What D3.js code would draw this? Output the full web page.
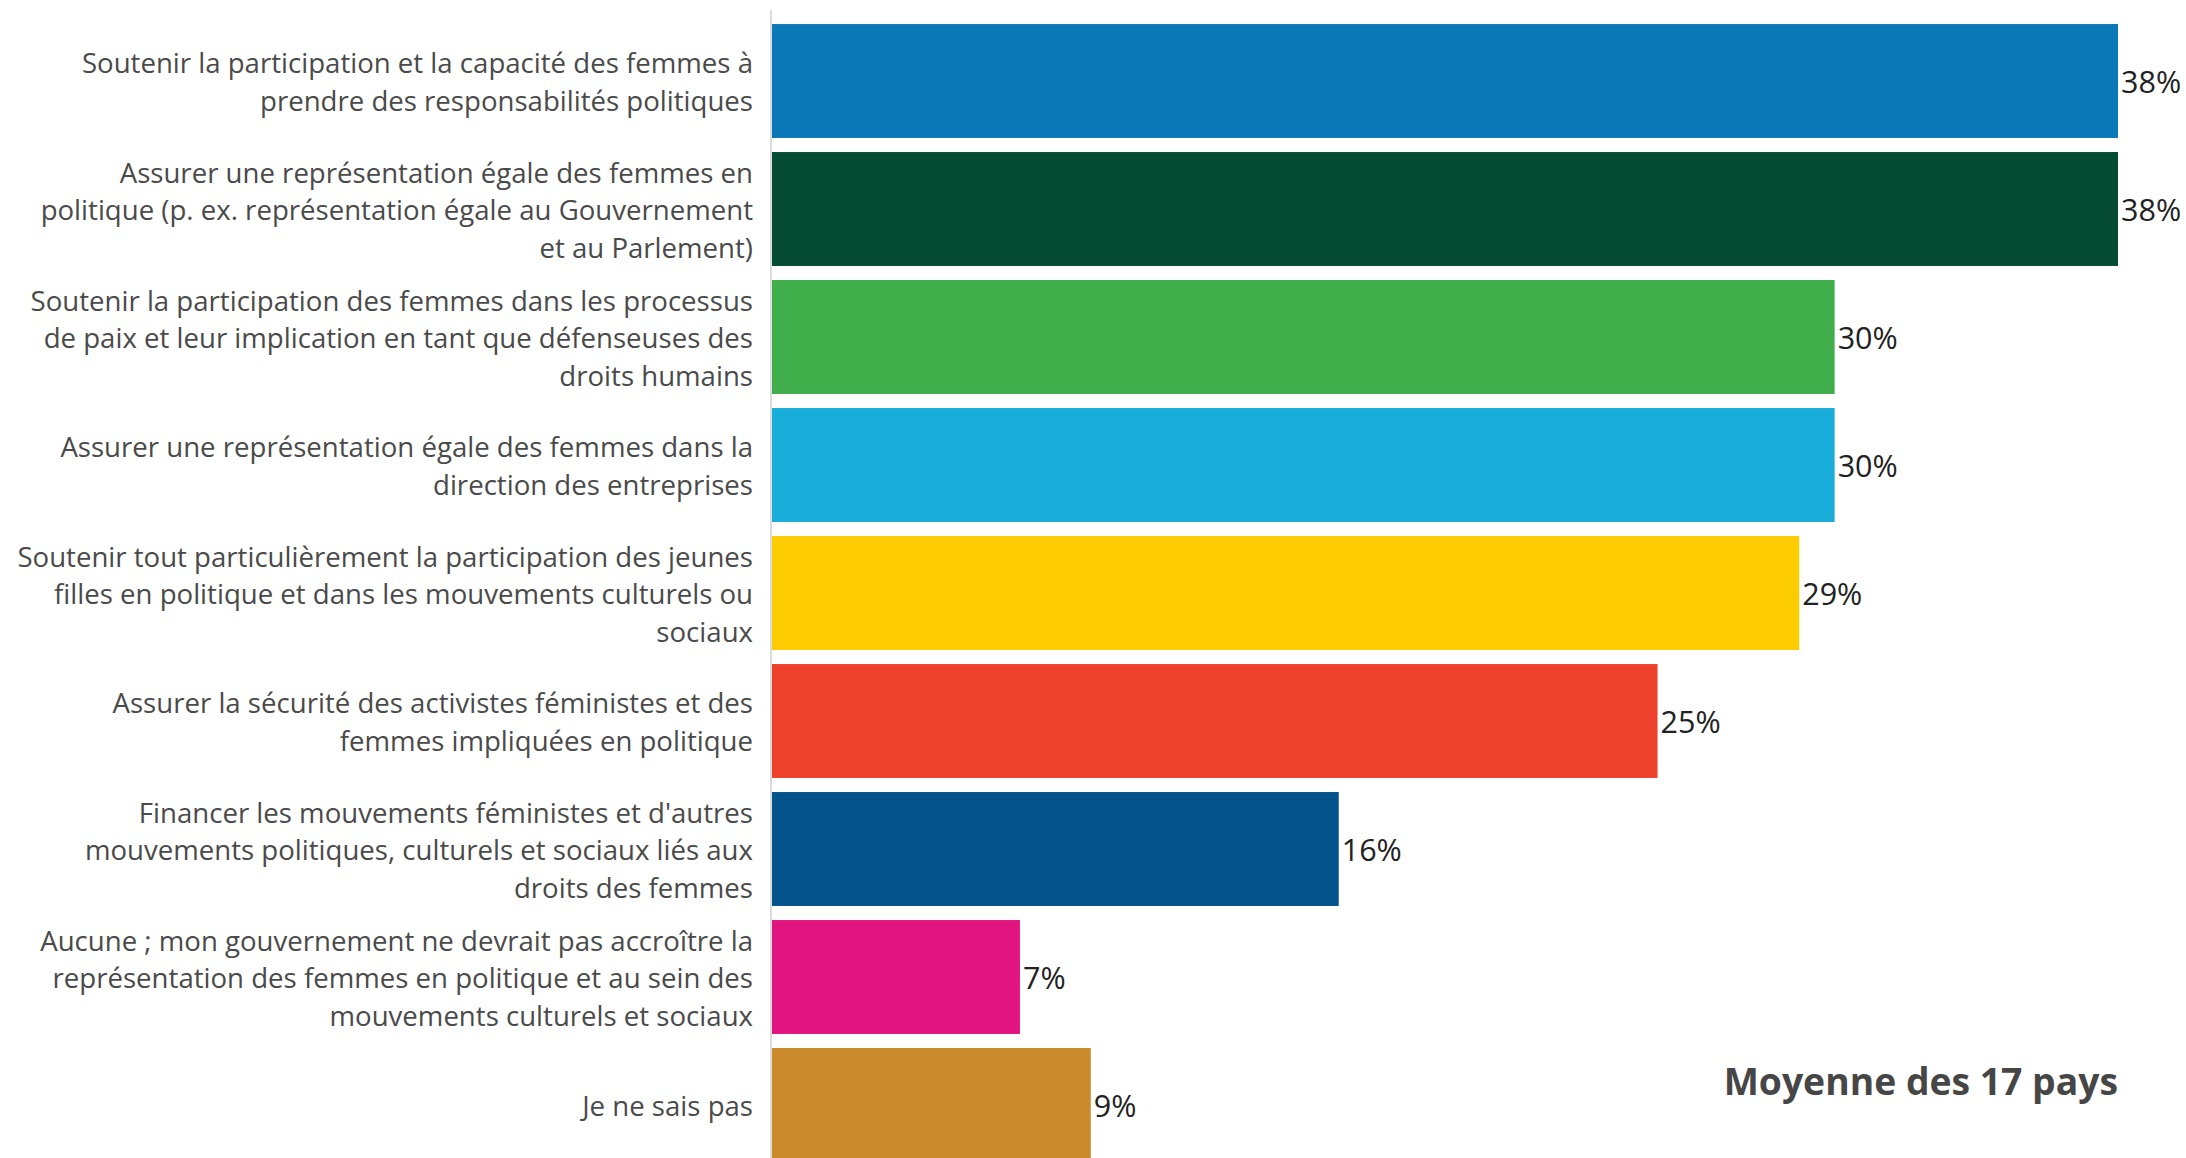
<!DOCTYPE html>
<html><head><meta charset="utf-8">
<script src="https://cdn.jsdelivr.net/npm/d3@7"></script>
<style>html,body{margin:0;padding:0;background:#fff;}svg{display:block;}</style>
</head><body>
<script>
const categories = [
  ["Soutenir la participation et la capacité des femmes à","prendre des responsabilités politiques"],
  ["Assurer une représentation égale des femmes en","politique (p. ex. représentation égale au Gouvernement","et au Parlement)"],
  ["Soutenir la participation des femmes dans les processus","de paix et leur implication en tant que défenseuses des","droits humains"],
  ["Assurer une représentation égale des femmes dans la","direction des entreprises"],
  ["Soutenir tout particulièrement la participation des jeunes","filles en politique et dans les mouvements culturels ou","sociaux"],
  ["Assurer la sécurité des activistes féministes et des","femmes impliquées en politique"],
  ["Financer les mouvements féministes et d'autres","mouvements politiques, culturels et sociaux liés aux","droits des femmes"],
  ["Aucune ; mon gouvernement ne devrait pas accroître la","représentation des femmes en politique et au sein des","mouvements culturels et sociaux"],
  ["Je ne sais pas"]
];
const values = [38, 38, 30, 30, 29, 25, 16, 7, 9];
const colors = ["#0B78B8","#064B33","#40AE4A","#18ADD9","#FCCB00","#EE412B","#04538A","#E0157F","#CB8A2B"];
const title = "Moyenne des 17 pays";

const W = 2186, H = 1158;
const svg = d3.select("body").append("svg").attr("width", W).attr("height", H);
const font = "'Open Sans', sans-serif";

const x = d3.scaleLinear().domain([0, 38]).range([772, 2118]);
const y = d3.scaleBand().domain(d3.range(values.length)).range([17, 17 + 128 * values.length]).paddingInner(0.11).paddingOuter(0.055);

// axis line
svg.append("line").attr("x1", 771).attr("x2", 771).attr("y1", 10).attr("y2", H)
  .attr("stroke", "#dcdcdc").attr("stroke-width", 2);

const g = svg.append("g");
g.selectAll("rect").data(values).join("rect")
  .attr("x", x(0)).attr("y", (d, i) => y(i))
  .attr("width", d => x(d) - x(0)).attr("height", y.bandwidth())
  .attr("fill", (d, i) => colors[i]);

g.selectAll("text.val").data(values).join("text").attr("class", "val")
  .attr("x", d => x(d) + 3).attr("y", (d, i) => y(i) + y.bandwidth() / 2 + 1)
  .attr("dy", "0.35em").attr("font-family", font).attr("font-size", 30.5)
  .attr("fill", "#222").text(d => d + "%");

const lh = 37.6;
categories.forEach((lines, i) => {
  const cy = y(i) + y.bandwidth() / 2 + 1.5;
  const t = svg.append("text").attr("font-family", font).attr("font-size", 27.6)
    .attr("fill", "#4a4a4a").attr("text-anchor", "end");
  lines.forEach((l, k) => {
    t.append("tspan").attr("x", 753)
      .attr("y", cy + (k - (lines.length - 1) / 2) * lh).attr("dy", "0.35em").text(l);
  });
});

svg.append("text").attr("x", 2118).attr("y", 1095).attr("text-anchor", "end")
  .attr("font-family", font).attr("font-weight", 700).attr("font-size", 37.3)
  .attr("fill", "#464646").text(title);
</script>
</body></html>
